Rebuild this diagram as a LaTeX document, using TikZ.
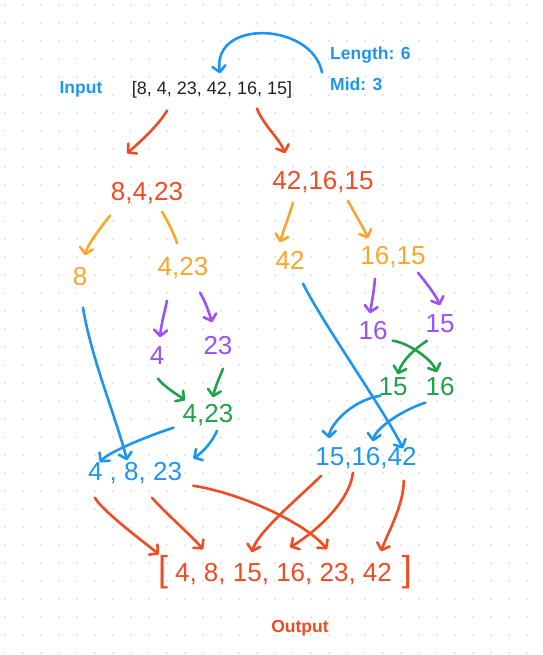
\documentclass[tikz,border=0pt]{standalone}
\usepackage{fontspec}
\setmainfont{Liberation Sans}
\usetikzlibrary{arrows.meta}
\definecolor{hBlue}{HTML}{1E96F0}
\definecolor{hRed}{HTML}{F04B23}
\definecolor{hOrange}{HTML}{FBA52B}
\definecolor{hPurple}{HTML}{9B51F5}
\definecolor{hGreen}{HTML}{1FA24A}
\definecolor{hInk}{HTML}{222222}
\definecolor{dotGray}{HTML}{DADADA}
\tikzset{
    lbl/.style={font=\bfseries\fontsize{17.5pt}{20pt}\selectfont, inner sep=2pt},
    typed/.style={font=\fontsize{18pt}{20pt}\selectfont, inner sep=2pt, text=hInk},
    num/.style={font=\fontsize{26pt}{30pt}\selectfont, inner sep=1pt, text height=19pt, text depth=4pt},
    hand/.style={line width=2.6pt, line cap=round, line join=round},
    harrow/.style={hand, -{Straight Barb[length=6pt,width=13pt,round]}}
}
\newcommand{\bigbr}[1]{{\fontsize{36pt}{36pt}\selectfont #1}}

\begin{document}
\begin{tikzpicture}[x=1pt,y=-1pt]
\useasboundingbox (0,0) rectangle (542,655);
\fill[white] (0,0) rectangle (542,655);
\foreach \i in {0,...,29}
  \foreach \j in {0,...,36}
    \fill[dotGray] (5+18*\i,5+18*\j) circle (1pt);

\node[lbl,text=hBlue] (input) at (81,89) {Input};
\node[typed] (inlist) at (212,90) {[8, 4, 23, 42, 16, 15]};
\node[lbl,text=hBlue,anchor=west] (len) at (328,55) {Length: 6};
\node[lbl,text=hBlue,anchor=west] (mid) at (328,84) {Mid: 3};

\node[num,text=hRed] (l1) at (147,193) {8,4,23};
\node[num,text=hRed] (r1) at (323,182) {42,16,15};

\node[num,text=hOrange] (l2a) at (80,278) {8};
\node[num,text=hOrange] (l2b) at (183,268) {4,23};
\node[num,text=hOrange] (r2a) at (290,262) {42};
\node[num,text=hOrange] (r2b) at (393,257) {16,15};

\node[num,text=hPurple] (l3a) at (157,357) {4};
\node[num,text=hPurple] (l3b) at (218,347) {23};
\node[num,text=hPurple] (r3a) at (373,332) {16};
\node[num,text=hPurple] (r3b) at (440,325) {15};

\node[num,text=hGreen] (l4) at (208,415) {4,23};
\node[num,text=hGreen] (r4a) at (393,388) {15};
\node[num,text=hGreen] (r4b) at (440,388) {16};

\node[num,text=hBlue] (l5) at (135,473) {4 , 8, 23};
\node[num,text=hBlue] (r5) at (366,458) {15,16,42};

\node[num,text=hRed,text height=27pt,text depth=8pt] (out) at (285,572)
  {\bigbr{[}\hspace{7pt}4, 8, 15, 16, 23, 42\hspace{10pt}\bigbr{]}};
\node[lbl,text=hRed] (output) at (300,628) {Output};

\draw[harrow,hBlue] ([shift={(-6,-3)}]mid.north west) .. controls +(-10,-50) and +(-8,-55) .. ([shift={(8,-6)}]inlist.north);

\draw[harrow,hRed] ([shift={(-45,10)}]inlist.south) .. controls +(-8,14) and +(14,-12) .. ([shift={(-20,-27)}]l1.north);
\draw[harrow,hRed] ([shift={(45,8)}]inlist.south) .. controls +(6,16) and +(-5,-14) .. ([shift={(-38,-16)}]r1.north);

\draw[harrow,hOrange] ([shift={(-37,10)}]l1.south) .. controls +(-8,10) and +(2,-10) .. ([shift={(5,-10)}]l2a.north);
\draw[hand,hOrange] ([shift={(15,6)}]l1.south) .. controls +(6,10) and +(-3,-10) .. ([shift={(-6,-12)}]l2b.north);
\draw[harrow,hOrange] ([shift={(-30,8)}]r1.south) .. controls +(-4,14) and +(4,-14) .. ([shift={(-10,-7)}]r2a.north);
\draw[harrow,hOrange] ([shift={(25,6)}]r1.south) .. controls +(6,12) and +(-5,-12) .. ([shift={(-25,-6)}]r2b.north);

\draw[harrow,hPurple] ([shift={(-16,20)}]l2b.south) .. controls +(-3,14) and +(1,-12) .. ([shift={(3,-7)}]l3a.north);
\draw[harrow,hPurple] ([shift={(17,12)}]l2b.south) .. controls +(5,8) and +(-3,-10) .. ([shift={(-6,-12)}]l3b.north);
\draw[harrow,hPurple] ([shift={(-18,9)}]r2b.south) .. controls +(-1,12) and +(2,-12) .. ([shift={(-3,-6)}]r3a.north);
\draw[harrow,hPurple] ([shift={(25,3)}]r2b.south) .. controls +(8,10) and +(-4,-10) .. ([shift={(0,-7)}]r3b.north);

\draw[harrow,hGreen] ([shift={(1,9)}]l3a.south) .. controls +(6,8) and +(-8,-6) .. ([shift={(-23,-2)}]l4.north);
\draw[harrow,hGreen] ([shift={(5,9)}]l3b.south) .. controls +(-4,10) and +(2,-10) .. ([shift={(5,-5)}]l4.north);
\draw[harrow,hGreen] ([shift={(4,-4)}]r3a.south east) .. controls +(15,2) and +(-6,-14) .. ([shift={(-3,-3)}]r4b.north);
\draw[harrow,hGreen] ([shift={(-13,3)}]r3b.south) .. controls +(-12,8) and +(4,-14) .. ([shift={(5,-1)}]r4a.north);

\draw[harrow,hBlue] ([shift={(3,17)}]l2a.south) .. controls +(8,50) and +(-10,-40) .. ([shift={(-8,0)}]l5.north);
\draw[harrow,hBlue] ([shift={(-8,0)}]l4.south west) .. controls +(-25,8) and +(8,-10) .. ([shift={(-35,2)}]l5.north);
\draw[harrow,hBlue] ([shift={(9,3)}]l4.south) .. controls +(-4,10) and +(10,-6) .. ([shift={(10,-2)}]l5.north east);
\draw[harrow,hBlue] ([shift={(13,9)}]r2a.south) .. controls +(20,40) and +(-20,-40) .. ([shift={(37,3)}]r5.north);
\draw[harrow,hBlue] ([shift={(3,-5)}]r4a.south west) .. controls +(-30,5) and +(0,-12) .. ([shift={(15,-7)}]r5.north west);
\draw[harrow,hBlue] ([shift={(1,2)}]r4b.south west) .. controls +(-25,8) and +(2,-12) .. ([shift={(7,-4)}]r5.north);

\draw[harrow,hRed] ([shift={(8,12)}]l5.south west) .. controls +(8,14) and +(-12,-10) .. ([shift={(2,1)}]out.north west);
\draw[harrow,hRed] ([shift={(17,12)}]l5.south) .. controls +(10,12) and +(-10,-12) .. ([shift={(-82,-4)}]out.north);
\draw[harrow,hRed] ([shift={(10,0)}]l5.south east) .. controls +(50,8) and +(-20,-25) .. ([shift={(42,-4)}]out.north);
\draw[harrow,hRed] ([shift={(7,5)}]r5.south west) .. controls +(-20,20) and +(5,-20) .. ([shift={(-33,-1)}]out.north);
\draw[harrow,hRed] ([shift={(-13,2)}]r5.south) .. controls +(-4,30) and +(25,-15) .. ([shift={(5,-6)}]out.north);
\draw[harrow,hRed] ([shift={(-14,10)}]r5.south east) .. controls +(0,25) and +(5,-15) .. ([shift={(-32,-2)}]out.north east);
\end{tikzpicture}
\end{document}
